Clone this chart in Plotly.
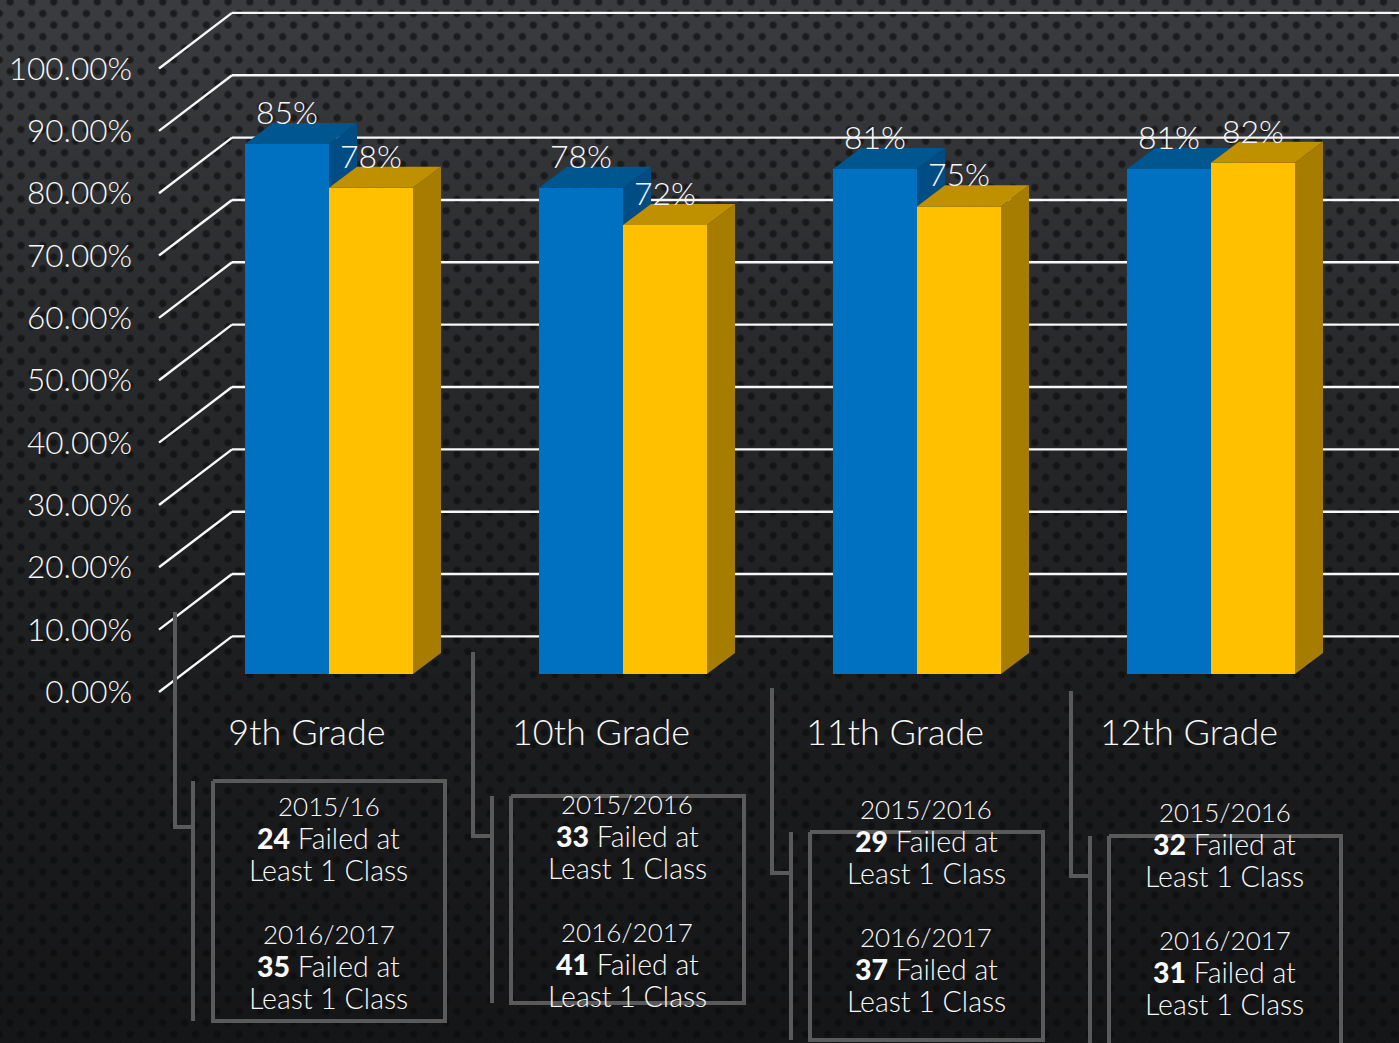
import base64, struct, zlib
import numpy as np
import plotly.graph_objects as go

# ---- data ----
grades = ["9th Grade", "10th Grade", "11th Grade", "12th Grade"]
pass_2015_16 = [85, 78, 81, 81]
pass_2016_17 = [78, 72, 75, 82]
axis_ticks = [0, 10, 20, 30, 40, 50, 60, 70, 80, 90, 100]
axis_tick_labels = ["0.00%", "10.00%", "20.00%", "30.00%", "40.00%", "50.00%",
                    "60.00%", "70.00%", "80.00%", "90.00%", "100.00%"]
year_first = ["2015/16", "2015/2016", "2015/2016", "2015/2016"]
year_second = ["2016/2017", "2016/2017", "2016/2017", "2016/2017"]
failed_first = [24, 33, 29, 32]
failed_second = [35, 41, 37, 31]

W, H = 1399, 1043
FONT = "Lato Light, Lato, sans-serif"
WHITE = "#f8f8f8"
CALLOUT = "#5a5a5a"

# ---- plot area and scales (pixels of the page) ----
PLOT_L, PLOT_B = 133, 708
PX_PER_CAT = 294.0
PX_PER_PCT = 6.235
X0_PX, Y0_PX = 307.0, 692.0


def x_units(px):
    return px / PX_PER_CAT


def y_units(px):
    return px / PX_PER_PCT


x_range = [x_units(PLOT_L - X0_PX), x_units(W - X0_PX)]
y_range = [y_units(Y0_PX - PLOT_B), y_units(Y0_PX)]


def px_paper_x(px):
    return (px - PLOT_L) / (W - PLOT_L)


def px_paper_y(py):
    return (PLOT_B - py) / PLOT_B


# ---- background texture written as a PNG ----
def background_png():
    yy, xx = np.mgrid[0:H, 0:W].astype(float)
    base = np.interp(yy, [0, 350, 700, 1043], [60, 42, 29, 22])
    sx, sy = 21.8, 11.6
    row = np.round((yy - 13) / sy)
    cx = 20.5 + (row % 2) * (-sx / 2)
    dx = ((xx - cx + sx / 2) % sx) - sx / 2
    dy = yy - (13 + row * sy)
    r = np.sqrt(dx ** 2 + dy ** 2)
    dot = np.clip((4.7 - r) / 2.2, 0, 1)
    weave = ((xx.astype(int) + yy.astype(int)) % 2) * 2 - 1
    strength = np.interp(yy, [0, 1043], [0.52, 0.32])
    v = (base + weave * (1 - dot)) * (1 - strength * dot)
    rgb = np.stack([v * 0.97, v * 1.0, v * 1.05], axis=2).clip(0, 255).astype(np.uint8)
    raw = b"".join(b"\x00" + rgb[i].tobytes() for i in range(H))

    def chunk(tag, data):
        c = struct.pack(">I", len(data)) + tag + data
        return c + struct.pack(">I", zlib.crc32(tag + data) & 0xffffffff)

    png = (b"\x89PNG\r\n\x1a\n"
           + chunk(b"IHDR", struct.pack(">IIBBBBB", W, H, 8, 2, 0, 0, 0))
           + chunk(b"IDAT", zlib.compress(raw, 9))
           + chunk(b"IEND", b""))
    return "data:image/png;base64," + base64.b64encode(png).decode()


# ---- 3D geometry in axis units ----
bar_w = x_units(84)
bar_dx = x_units(22)
bar_base = y_units(18)
side_dx = x_units(28)
side_dv = y_units(21)
wall_dx = x_units(73)
wall_dv = y_units(55.6)


def faces(xc, val):
    """Return side and top polygons for a bar centred on xc with height val."""
    xl, xr = xc - bar_w / 2, xc + bar_w / 2
    top = val + bar_base
    side = ([xr, xr + side_dx, xr + side_dx, xr, xr],
            [bar_base, bar_base + side_dv, top + side_dv, top, bar_base])
    lid = ([xl, xl + side_dx, xr + side_dx, xr, xl],
           [top, top + side_dv, top + side_dv, top, top])
    return side, lid


def poly(pts, color, xa, ya):
    return go.Scatter(x=pts[0], y=pts[1], mode="lines", fill="toself", fillcolor=color,
                      line=dict(width=0, color=color), hoverinfo="skip",
                      showlegend=False, xaxis=xa, yaxis=ya)


fig = go.Figure()
cat = np.arange(len(grades), dtype=float)
blue_x = cat + bar_dx - bar_w / 2
gold_x = cat + bar_dx + bar_w / 2

# blue series on the main axes
fig.add_trace(go.Bar(x=blue_x, y=pass_2015_16, base=bar_base, width=bar_w, name="2015/16",
                     marker=dict(color="#0070C0", line=dict(width=0)), hoverinfo="skip",
                     showlegend=False))
for xc, v in zip(blue_x, pass_2015_16):
    s, l = faces(xc, v)
    fig.add_trace(poly(s, "#004C84", "x", "y"))
    fig.add_trace(poly(l, "#00568F", "x", "y"))

# gold series on an overlay so that it covers the blue side faces
fig.add_trace(go.Bar(x=gold_x, y=pass_2016_17, base=bar_base, width=bar_w, name="2016/17",
                     marker=dict(color="#FFC000", line=dict(width=0)), hoverinfo="skip",
                     showlegend=False, xaxis="x2", yaxis="y2"))
for xc, v in zip(gold_x, pass_2016_17):
    s, l = faces(xc, v)
    fig.add_trace(poly(s, "#A67D00", "x2", "y2"))
    fig.add_trace(poly(l, "#BF9000", "x2", "y2"))

# value labels
lift = bar_base + y_units(28)
fig.add_trace(go.Scatter(
    x=list(blue_x) + list(gold_x),
    y=[v + lift for v in pass_2015_16] + [v + lift for v in pass_2016_17],
    text=[f"{v}%" for v in pass_2015_16] + [f"{v}%" for v in pass_2016_17],
    mode="text", textposition="middle center",
    textfont=dict(family=FONT, size=32, color=WHITE),
    hoverinfo="skip", showlegend=False, xaxis="x2", yaxis="y2"))

# ---- wall and floor grid ----
shapes = []
left = x_units(159 - X0_PX)
for tv in axis_ticks:
    g = dict(type="line", xref="x", yref="y", layer="below",
             line=dict(color=WHITE, width=2.4))
    shapes.append({**g, "x0": left, "y0": tv, "x1": left + wall_dx, "y1": tv + wall_dv})
    shapes.append({**g, "x0": left + wall_dx, "y0": tv + wall_dv,
                   "x1": x_range[1], "y1": tv + wall_dv})


# ---- callouts ----
def pline(pts):
    path = "M " + " L ".join(f"{px_paper_x(a):.5f},{px_paper_y(b):.5f}" for a, b in pts)
    return dict(type="path", path=path, xref="paper", yref="paper", layer="above",
                line=dict(color=CALLOUT, width=4))


def strong(n):
    return f'<span style="font-family:Lato;font-weight:900">{n}</span>'


# box left, right, top, bottom; bracket x, top, elbow y, spine x
boxes = [(213, 445, 781, 1021, 175, 612, 827, 193),
         (511, 744, 796, 1003, 473, 652, 836, 492),
         (810, 1043, 832, 1040, 772, 688, 873, 791),
         (1109, 1341, 836, 1046, 1071, 691, 876, 1090)]
text_tops = [806, 804, 809, 812]
annotations = []
line_offsets = [0, 32, 64, 128, 160, 192]
line_sizes = [26, 28.5, 28.5, 26, 28.5, 28.5]
for i, (l, r, t, b, bx, bt, by, sp) in enumerate(boxes):
    shapes.append(pline([(l, t), (r, t), (r, b), (l, b), (l, t)]))
    shapes.append(pline([(bx, bt), (bx, by), (sp, by)]))
    shapes.append(pline([(sp, t), (sp, min(b, 1046))]))
    lines = [year_first[i], f"{strong(failed_first[i])} Failed at", "Least 1 Class",
             year_second[i], f"{strong(failed_second[i])} Failed at", "Least 1 Class"]
    cx = (l + r) / 2 - 0.5
    for txt, off, fs in zip(lines, line_offsets, line_sizes):
        annotations.append(dict(text=txt, xref="paper", yref="paper",
                                x=px_paper_x(cx), y=px_paper_y(text_tops[i] + off),
                                xanchor="center", yanchor="middle", showarrow=False,
                                font=dict(family=FONT, size=fs, color=WHITE)))

fig.update_layout(
    width=W, height=H, autosize=False,
    margin=dict(l=PLOT_L, r=0, t=0, b=H - PLOT_B, pad=0),
    paper_bgcolor="#1e2022", plot_bgcolor="rgba(0,0,0,0)",
    barmode="overlay", showlegend=False,
    images=[dict(source=background_png(), xref="paper", yref="paper",
                 x=px_paper_x(0), y=px_paper_y(0), sizex=W / (W - PLOT_L), sizey=H / PLOT_B,
                 xanchor="left", yanchor="top", sizing="stretch", layer="below")],
    xaxis=dict(range=x_range, tickmode="array", tickvals=list(cat), ticktext=grades,
               showgrid=False, zeroline=False, showline=False, ticks="", automargin=False,
               tickfont=dict(family=FONT, size=36, color=WHITE)),
    yaxis=dict(range=y_range, tickmode="array", tickvals=axis_ticks, ticktext=axis_tick_labels,
               showgrid=False, zeroline=False, showline=False, ticks="", automargin=False,
               tickfont=dict(family=FONT, size=31.5, color=WHITE)),
    xaxis2=dict(range=x_range, overlaying="x", visible=False),
    yaxis2=dict(range=y_range, overlaying="y", visible=False),
    shapes=shapes, annotations=annotations,
)

fig.write_html("out.html", config=dict(displayModeBar=False),
               post_script="document.body.style.margin='0';document.body.style.overflow='hidden';")
